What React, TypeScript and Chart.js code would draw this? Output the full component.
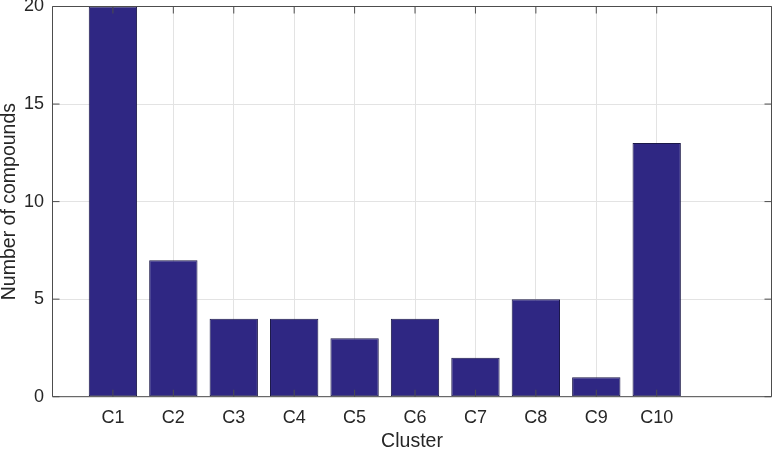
import React, { useEffect, useRef } from 'react';
import { Chart, registerables } from 'chart.js';

Chart.register(...registerables);

const categories = ['C1', 'C2', 'C3', 'C4', 'C5', 'C6', 'C7', 'C8', 'C9', 'C10'];
const positions = [1, 2, 3, 4, 5, 6, 7, 8, 9, 10];
const counts = [20, 7, 4, 4, 3, 4, 2, 5, 1, 13];
const yTickValues = [0, 5, 10, 15, 20];

const TEXT = '#262626';
const AXIS = '#4d4d4d';
const GRID = '#e3e3e3';
const FONT = "'Liberation Sans', Arial, Helvetica, sans-serif";

const boxPlugin = {
  id: 'matlabBox',
  afterDatasetsDraw(chart: any) {
    const { ctx, chartArea } = chart;
    const { left, right, top, bottom } = chartArea;
    const xs = chart.scales.x;
    const ys = chart.scales.y;
    const tl = 7;
    ctx.save();
    ctx.strokeStyle = AXIS;
    ctx.lineWidth = 1;
    ctx.beginPath();
    ctx.rect(left, top, right - left, bottom - top);
    ctx.stroke();
    ctx.beginPath();
    for (const v of yTickValues) {
      const py = ys.getPixelForValue(v);
      ctx.moveTo(left, py);
      ctx.lineTo(left + tl, py);
      ctx.moveTo(right, py);
      ctx.lineTo(right - tl, py);
    }
    for (const v of positions) {
      const px = xs.getPixelForValue(v);
      ctx.moveTo(px, bottom);
      ctx.lineTo(px, bottom - tl);
      ctx.moveTo(px, top);
      ctx.lineTo(px, top + tl);
    }
    ctx.stroke();
    ctx.restore();
  },
};

export default function App() {
  const ref = useRef<HTMLCanvasElement | null>(null);

  useEffect(() => {
    document.body.style.margin = '0';
    const canvas = ref.current;
    if (!canvas) return;
    const chart = new Chart(canvas, {
      type: 'bar',
      data: {
        datasets: [
          {
            data: positions.map((p, i) => ({ x: p, y: counts[i] })),
            backgroundColor: '#2f2783',
            borderColor: '#1b1848',
            borderWidth: 1,
            borderSkipped: false,
            barPercentage: 0.8,
            categoryPercentage: 1,
          },
        ],
      },
      options: {
        animation: false,
        responsive: false,
        devicePixelRatio: 1,
        layout: { padding: { top: 6.5, right: 6.5, left: 0, bottom: 0 } },
        plugins: {
          legend: { display: false },
          tooltip: { enabled: false },
        },
        scales: {
          x: {
            type: 'linear',
            offset: false,
            min: 0,
            max: 11.9,
            afterBuildTicks: (s: any) => {
              s.ticks = positions.map((v) => ({ value: v }));
            },
            afterFit: (s: any) => {
              s.height = 52.3;
              s.paddingLeft = 0;
              s.paddingRight = 0;
            },
            ticks: {
              autoSkip: false,
              maxRotation: 0,
              padding: 11,
              color: TEXT,
              font: { family: FONT, size: 18 },
              callback: (v: any) => {
                const idx = positions.indexOf(Number(v));
                return idx >= 0 ? categories[idx] : '';
              },
            },
            grid: { color: GRID, drawTicks: false, offset: false },
            border: { display: false },
            title: {
              display: true,
              text: 'Cluster',
              color: TEXT,
              font: { family: FONT, size: 19.5, lineHeight: 1 },
              padding: { top: 0, bottom: -2 },
            },
          },
          y: {
            min: 0,
            max: 20,
            afterBuildTicks: (s: any) => {
              s.ticks = yTickValues.map((v) => ({ value: v }));
            },
            afterFit: (s: any) => {
              s.width = 52.5;
              s.paddingTop = 0;
              s.paddingBottom = 0;
            },
            ticks: {
              padding: 8.5,
              color: TEXT,
              font: { family: FONT, size: 18 },
            },
            grid: { color: GRID, drawTicks: false },
            border: { display: false },
            title: {
              display: true,
              text: 'Number of compounds',
              color: TEXT,
              font: { family: FONT, size: 19.5, lineHeight: 1 },
              padding: { top: 0, bottom: 0 },
            },
          },
        },
      },
      plugins: [boxPlugin],
    } as any);
    return () => chart.destroy();
  }, []);

  return (
    <div style={{ position: 'absolute', left: 0, top: 0, width: 778, height: 449 }}>
      <canvas ref={ref} width={778} height={449} />
    </div>
  );
}
